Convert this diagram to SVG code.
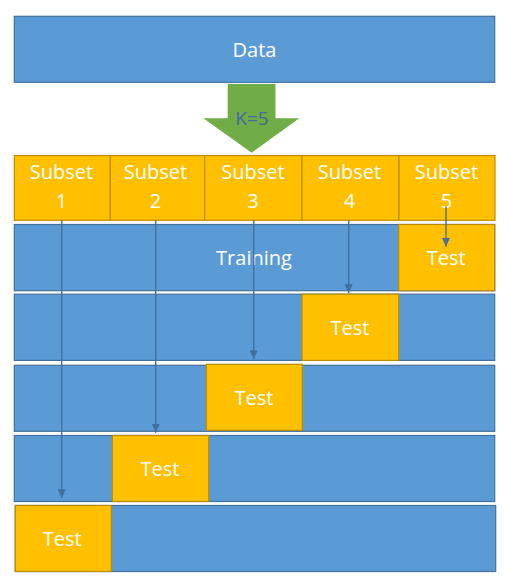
<svg xmlns="http://www.w3.org/2000/svg" width="510" height="588" viewBox="0 0 510 588">
<defs>
<style>
.blue{fill:#5B9BD5;stroke:#41719C;stroke-width:1.2}
.org{fill:#FFC000;stroke:#BC8C00;stroke-width:1.2}
.t{font-family:"Open Sans","Noto Sans",sans-serif;font-size:20px;fill:#FFFFFF;text-anchor:middle}
.k{font-family:"Open Sans","Noto Sans",sans-serif;font-size:19px;fill:#44689C;text-anchor:middle}
.c{stroke:#41719C;stroke-width:1.4;fill:none;marker-end:url(#ah)}
</style>
<marker id="ah" markerUnits="userSpaceOnUse" markerWidth="9" markerHeight="8" refX="9" refY="4" orient="auto" viewBox="0 0 9 8">
<path d="M0,0 L9,4 L0,8 Z" fill="#41719C"/>
</marker>
</defs>
<g id="data">
<rect class="blue" x="14.3" y="16.3" width="480.4" height="66"/>
<text class="t" x="254.5" y="56.5">Data</text>
</g>
<g id="split-arrow">
<path d="M227.7,84 L275.5,84 L275.5,118.3 L299.3,118.3 L251.7,152.7 L203.3,118.3 L227.7,118.3 Z" fill="#70AD47"/>
<text class="k" x="252" y="125">K=5</text>
</g>
<g id="subset1"><rect class="org" x="14.3" y="155.5" width="96" height="64.8"/><text class="t" x="61.5" y="179.3">Subset</text><text class="t" x="61.5" y="208.3">1</text></g>
<g id="subset2"><rect class="org" x="110.3" y="155.5" width="94.4" height="64.8"/><text class="t" x="155.5" y="179.3">Subset</text><text class="t" x="155.5" y="208.3">2</text></g>
<g id="subset3"><rect class="org" x="204.7" y="155.5" width="97.3" height="64.8"/><text class="t" x="253" y="179.3">Subset</text><text class="t" x="253" y="208.3">3</text></g>
<g id="subset4"><rect class="org" x="302" y="155.5" width="97" height="64.8"/><text class="t" x="349.5" y="179.3">Subset</text><text class="t" x="349.5" y="208.3">4</text></g>
<g id="subset5"><rect class="org" x="399" y="155.5" width="96" height="64.8"/><text class="t" x="446.5" y="179.3">Subset</text><text class="t" x="446.5" y="208.3">5</text></g>
<g id="fold1">
<rect class="blue" x="14.3" y="224.5" width="480.4" height="66.2"/>
<rect class="org" x="398.7" y="224.5" width="96" height="66.2"/>
<text class="t" x="254" y="265">Training</text>
<text class="t" x="446.3" y="264.5">Test</text>
</g>
<g id="fold2">
<rect class="blue" x="14.3" y="294.2" width="480.4" height="66.2"/>
<rect class="org" x="302" y="294.2" width="96.7" height="66.2"/>
<text class="t" x="350" y="334.5">Test</text>
</g>
<g id="fold3">
<rect class="blue" x="14.3" y="365.3" width="480.4" height="66"/>
<rect class="org" x="206.3" y="364.3" width="96" height="66"/>
<text class="t" x="254" y="405">Test</text>
</g>
<g id="fold4">
<rect class="blue" x="14.3" y="435.5" width="480.4" height="66"/>
<rect class="org" x="112.3" y="435.5" width="96.4" height="66"/>
<text class="t" x="160" y="476">Test</text>
</g>
<g id="fold5">
<rect class="blue" x="15.3" y="505.5" width="480.4" height="66"/>
<rect class="org" x="15.3" y="505.5" width="96" height="66"/>
<text class="t" x="62.3" y="546">Test</text>
</g>
<g id="connectors">
<line class="c" x1="446" y1="206.5" x2="446" y2="246.7"/>
<line class="c" x1="348.7" y1="220.3" x2="348.7" y2="293.3"/>
<line class="c" x1="253.7" y1="220.3" x2="253.7" y2="359.3"/>
<line class="c" x1="155.7" y1="220.3" x2="155.7" y2="432.7"/>
<line class="c" x1="61.7" y1="220.3" x2="61.7" y2="498.3"/>
</g>
</svg>
